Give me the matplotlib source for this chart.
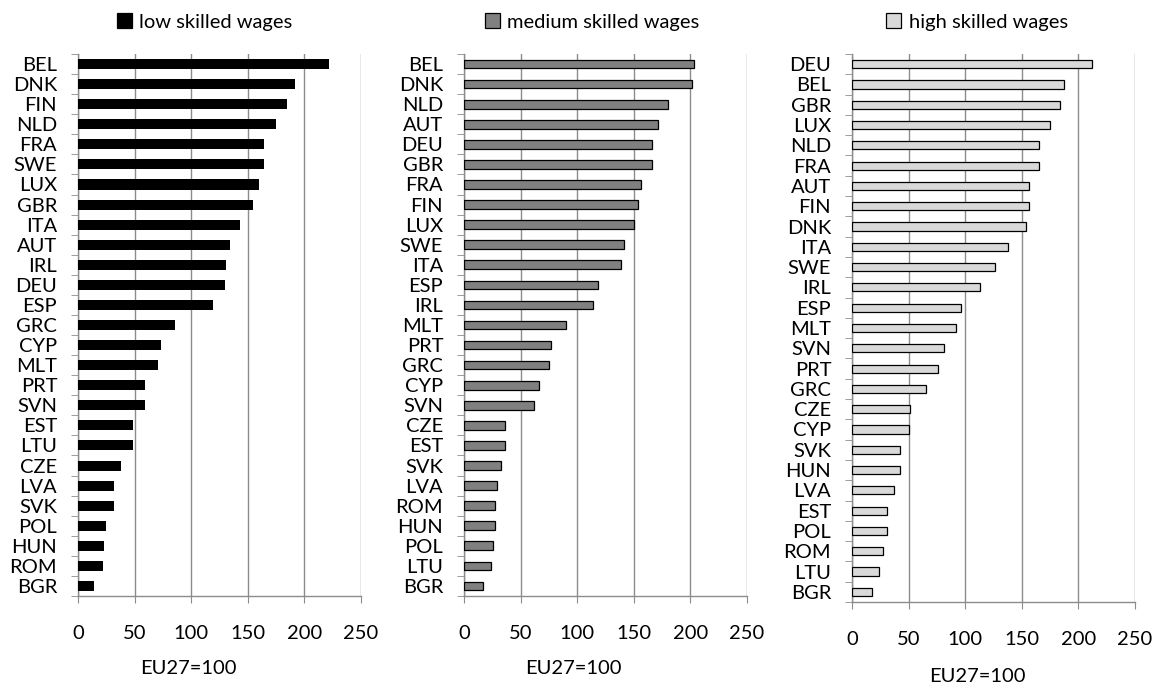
import matplotlib.pyplot as plt
import numpy as np
from matplotlib.patches import Patch
from matplotlib.ticker import MultipleLocator, FixedLocator

plt.rcParams['font.family'] = ['Lato', 'DejaVu Sans']

# Relative wages by skill level, EU27=100, sorted high to low per panel
low_countries = ['BEL', 'DNK', 'FIN', 'NLD', 'FRA', 'SWE', 'LUX', 'GBR', 'ITA', 'AUT',
                 'IRL', 'DEU', 'ESP', 'GRC', 'CYP', 'MLT', 'PRT', 'SVN', 'EST', 'LTU',
                 'CZE', 'LVA', 'SVK', 'POL', 'HUN', 'ROM', 'BGR']
low_values = [222, 192, 185, 175, 164, 164, 160, 155, 143, 134,
              131, 130, 119, 86, 73, 71, 59, 59, 49, 49,
              38, 32, 32, 25, 23, 22, 14]

medium_countries = ['BEL', 'DNK', 'NLD', 'AUT', 'DEU', 'GBR', 'FRA', 'FIN', 'LUX', 'SWE',
                    'ITA', 'ESP', 'IRL', 'MLT', 'PRT', 'GRC', 'CYP', 'SVN', 'CZE', 'EST',
                    'SVK', 'LVA', 'ROM', 'HUN', 'POL', 'LTU', 'BGR']
medium_values = [203, 201, 180, 171, 166, 166, 156, 154, 150, 141,
                 139, 118, 114, 90, 77, 75, 66, 62, 36, 36,
                 33, 29, 27, 27, 26, 24, 17]

high_countries = ['DEU', 'BEL', 'GBR', 'LUX', 'NLD', 'FRA', 'AUT', 'FIN', 'DNK', 'ITA',
                  'SWE', 'IRL', 'ESP', 'MLT', 'SVN', 'PRT', 'GRC', 'CZE', 'CYP', 'SVK',
                  'HUN', 'LVA', 'EST', 'POL', 'ROM', 'LTU', 'BGR']
high_values = [212, 187, 184, 175, 165, 165, 156, 156, 154, 138,
               126, 113, 96, 92, 81, 76, 65, 51, 50, 42,
               42, 37, 31, 31, 27, 24, 18]

W, H = 1157, 684
fig = plt.figure(figsize=(W / 100, H / 100), dpi=100)

grid_color = '#8c8c8c'

# (countries, values, label, fill, edge, bar height, axes box in px, legend x, xlabel pos)
panels = [
    (low_countries, low_values, 'low skilled wages', 'black', 'black', 0.5,
     (78, 54, 361, 596), 205, (188, 668)),
    (medium_countries, medium_values, 'medium skilled wages', '#808080', 'black', 0.43,
     (464, 54, 747, 596), 592, (573, 668)),
    (high_countries, high_values, 'high skilled wages', '#d9d9d9', 'black', 0.4,
     (852, 54, 1135, 602), 977, (977, 677)),
]

for countries, values, label, fill, edge, bh, box, leg_x, xl in panels:
    x0, y0, x1, y1 = box
    ax = fig.add_axes([x0 / W, 1 - y1 / H, (x1 - x0) / W, (y1 - y0) / H])
    y = np.arange(len(countries))
    ax.barh(y, values, height=bh, color=fill, edgecolor=edge,
            linewidth=0 if fill == 'black' else 0.9, zorder=3)

    ax.set_xlim(0, 250)
    ax.set_ylim(len(countries) - 0.5, -0.5)
    ax.xaxis.set_major_locator(MultipleLocator(50))
    ax.grid(True, axis='x', color=grid_color, linewidth=1.0, zorder=0)
    ax.set_axisbelow(True)

    ax.set_yticks(y)
    ax.set_yticklabels(countries, fontsize=14.5)
    ax.yaxis.set_minor_locator(FixedLocator(np.arange(len(countries) + 1) - 0.5))
    ax.tick_params(axis='y', which='major', length=0, pad=15)
    ax.tick_params(axis='y', which='minor', length=5, color=grid_color, direction='out')
    ax.tick_params(axis='x', length=5, color=grid_color, direction='out',
                   labelsize=14.5, pad=16)

    for side in ['top', 'right']:
        ax.spines[side].set_visible(False)
    for side in ['left', 'bottom']:
        ax.spines[side].set_color(grid_color)
        ax.spines[side].set_linewidth(1.0)

    fig.text(xl[0] / W, 1 - xl[1] / H, 'EU27=100', ha='center', va='center', fontsize=14.5)

    handle = Patch(facecolor=fill, edgecolor='black', linewidth=0.9)
    fig.legend([handle], [label], loc='center', bbox_to_anchor=(leg_x / W, 1 - 22 / H),
               frameon=False, fontsize=14.5, handlelength=0.75, handleheight=0.75,
               handletextpad=0.35, borderaxespad=0, borderpad=0)

plt.savefig('out.png', dpi=100)
